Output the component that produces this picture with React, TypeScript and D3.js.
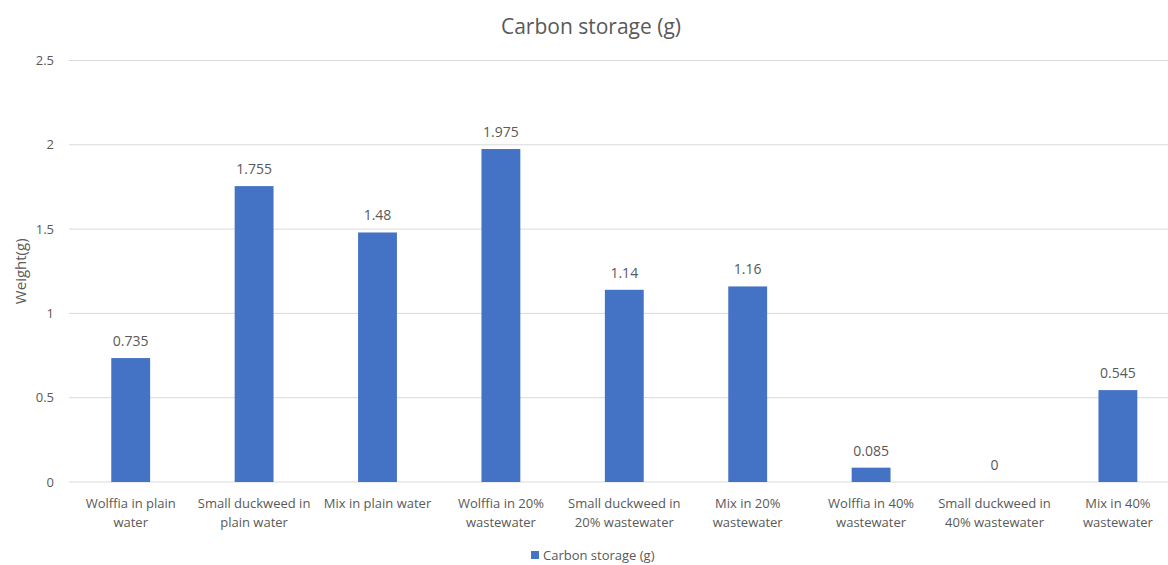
import React from 'react';
import * as d3 from 'd3';

const categories: string[][] = [
  ['Wolffia in plain', 'water'],
  ['Small duckweed in', 'plain water'],
  ['Mix in plain water'],
  ['Wolffia in 20%', 'wastewater'],
  ['Small duckweed in', '20% wastewater'],
  ['Mix in 20%', 'wastewater'],
  ['Wolffia in 40%', 'wastewater'],
  ['Small duckweed in', '40% wastewater'],
  ['Mix in 40%', 'wastewater'],
];
const values = [0.735, 1.755, 1.48, 1.975, 1.14, 1.16, 0.085, 0, 0.545];
const valueLabels = ['0.735', '1.755', '1.48', '1.975', '1.14', '1.16', '0.085', '0', '0.545'];
const yTicks = [0, 0.5, 1, 1.5, 2, 2.5];
const seriesName = 'Carbon storage (g)';

const width = 1168;
const height = 565;
const left = 69;
const top = 60.5;
const bottom = 482;
const font = '"Open Sans", "Liberation Sans", sans-serif';
const textColor = '#595959';
const barColor = '#4472C4';

const App: React.FC = () => {
  const x = d3.scaleBand<number>()
    .domain(d3.range(categories.length))
    .range([left, left + 123.4 * categories.length])
    .paddingInner(0.685)
    .paddingOuter(0.3425);
  const y = d3.scaleLinear().domain([0, 2.5]).range([bottom, top]);

  return (
    <svg width={width} height={height}
      style={{ position: 'absolute', left: 0, top: 0, background: '#fff', fontFamily: font }}>
      {/* gridlines */}
      {yTicks.map(t => (
        <g key={t}>
          <line x1={left} x2={width} y1={y(t)} y2={y(t)} stroke="#d9d9d9" strokeWidth={1} />
          <text x={54} y={y(t)} dy="0.35em" textAnchor="end" fontSize={13} fill={textColor}>{t}</text>
        </g>
      ))}

      {/* bars */}
      {values.map((v, i) => (
        <g key={i}>
          <rect x={x(i)} width={x.bandwidth()} y={y(v)} height={bottom - y(v)} fill={barColor} />
          <text x={(x(i) as number) + x.bandwidth() / 2} y={y(v) - 12} textAnchor="middle"
            fontSize={14} fill={textColor}>{valueLabels[i]}</text>
        </g>
      ))}

      {/* category labels */}
      {categories.map((lines, i) => (
        <text key={i} x={(x(i) as number) + x.bandwidth() / 2} y={508}
          textAnchor="middle" fontSize={13} fill={textColor}>
          {lines.map((l, j) => (
            <tspan key={j} x={(x(i) as number) + x.bandwidth() / 2} dy={j === 0 ? 0 : 19}>{l}</tspan>
          ))}
        </text>
      ))}

      {/* axis title */}
      <text transform={`translate(26,${(top + bottom) / 2}) rotate(-90)`} textAnchor="middle"
        fontSize={15} fill={textColor}>Weight(g)</text>

      {/* chart title */}
      <text x={591} y={34} textAnchor="middle" fontSize={21} fill={textColor}>{seriesName}</text>

      {/* legend */}
      <rect x={531} y={551} width={8} height={8} fill={barColor} />
      <text x={543} y={560} fontSize={13} fill={textColor}>{seriesName}</text>
    </svg>
  );
};

export default App;
